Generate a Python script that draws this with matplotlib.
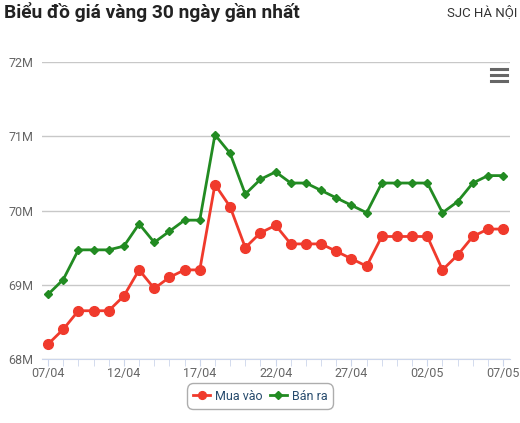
import matplotlib.pyplot as plt
from matplotlib.lines import Line2D

plt.rcParams["font.family"] = ["Roboto", "DejaVu Sans"]

dates = [
    "07/04", "08/04", "09/04", "10/04", "11/04", "12/04", "13/04", "14/04",
    "15/04", "16/04", "17/04", "18/04", "19/04", "20/04", "21/04", "22/04",
    "23/04", "24/04", "25/04", "26/04", "27/04", "28/04", "29/04", "30/04",
    "01/05", "02/05", "03/05", "04/05", "05/05", "06/05", "07/05",
]

# gia mua vao / ban ra (trieu dong)
mua_vao = [
    68.20, 68.40, 68.65, 68.65, 68.65, 68.85, 69.20, 68.95, 69.10, 69.20,
    69.20, 70.35, 70.05, 69.50, 69.70, 69.80, 69.55, 69.55, 69.55, 69.45,
    69.35, 69.25, 69.65, 69.65, 69.65, 69.65, 69.20, 69.40, 69.65, 69.75,
    69.75,
]
ban_ra = [
    68.87, 69.07, 69.47, 69.47, 69.47, 69.52, 69.82, 69.57, 69.72, 69.87,
    69.87, 71.02, 70.77, 70.22, 70.42, 70.52, 70.37, 70.37, 70.27, 70.17,
    70.07, 69.97, 70.37, 70.37, 70.37, 70.37, 69.97, 70.12, 70.37, 70.47,
    70.47,
]

y_ticks = [68, 69, 70, 71, 72]

W, H = 520, 423
fig = plt.figure(figsize=(W / 100, H / 100), dpi=100)
ax = fig.add_axes([42 / W, 1 - 359 / H, (510 - 42) / W, (359 - 62) / H])

x = list(range(len(dates)))

ax.plot(x, mua_vao, color="#f03a2c", lw=2, marker="o", ms=7,
        label="Mua vào", zorder=3)
ax.plot(x, ban_ra, color="#228b22", lw=2, marker="D", ms=4.5,
        label="Bán ra", zorder=3)

ax.set_xlim(-0.4, 30.45)
ax.set_ylim(68, 72)

ax.set_yticks(y_ticks)
ax.set_yticklabels([f"{v}M" for v in y_ticks])
ax.grid(axis="y", color="#c8c8c8", lw=1)
ax.set_axisbelow(True)

ax.set_xticks(x[::5])
ax.set_xticklabels(dates[::5])
ax.set_xticks(x, minor=True)

for side in ["top", "right", "left"]:
    ax.spines[side].set_visible(False)
ax.spines["bottom"].set_color("#ccd6eb")

ax.tick_params(axis="y", length=0, labelsize=9, labelcolor="#666666", pad=6)
ax.tick_params(axis="x", which="both", length=5, color="#ccd6eb",
               labelsize=9, labelcolor="#666666", pad=1)

fig.text(4 / W, 1 - 12 / H, "Biểu đồ giá vàng 30 ngày gần nhất",
         fontsize=13.8, fontweight="bold", color="#222222", va="center")
fig.text(517 / W, 1 - 12 / H, "SJC HÀ NỘI", fontsize=9.5,
         color="#333333", va="center", ha="right")

# menu icon
for yy in [69, 75, 81]:
    fig.add_artist(Line2D([491 / W, 507 / W], [1 - yy / H, 1 - yy / H],
                          color="#666666", lw=2.2))

leg = fig.legend(loc="center", bbox_to_anchor=(260 / W, 1 - 396 / H),
                 ncol=2, frameon=True, fontsize=9, handlelength=1.4,
                 columnspacing=0.6, handletextpad=0.35, borderpad=0.3,
                 markerscale=0.8)
leg.get_frame().set_edgecolor("#999999")
leg.get_frame().set_linewidth(1)
leg.get_frame().set_boxstyle("round,pad=0.2,rounding_size=0.5")
for t in leg.get_texts():
    t.set_color("#274b6d")

fig.savefig("out.png", dpi=100)
